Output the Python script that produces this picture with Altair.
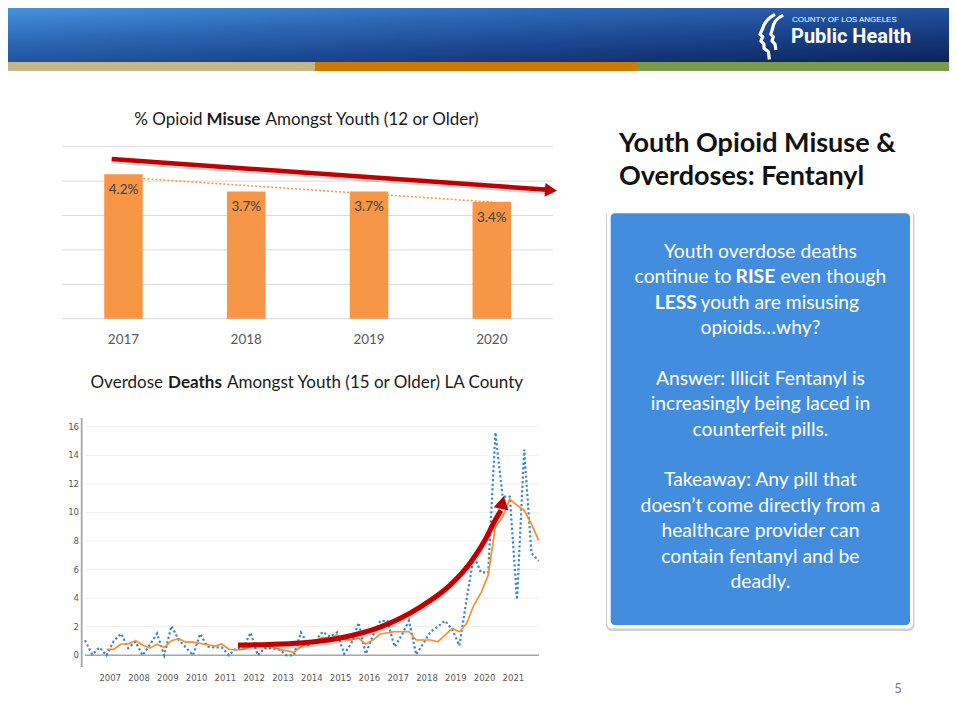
import altair as alt
import pandas as pd

OX, OY = 8, 8          # page margin
W, H = 941, 706        # drawable canvas


def X(v):
    return v - OX


def Y(v):
    return v - OY


# ---------------- data: bar chart ----------------
bar_years = ["2017", "2018", "2019", "2020"]
bar_values = [4.2, 3.7, 3.7, 3.4]
bar_labels = ["4.2%", "3.7%", "3.7%", "3.4%"]
bar_grid = [0, 1, 2, 3, 4, 5]
trend_pos = [0, 3]
trend_vals = [4.11, 3.39]
arrow1_pos = [-0.096, 3.457]
arrow1_vals = [4.64, 3.75]
arrow1_head_pos = [3.482]
arrow1_head_val = [3.735]

# ---------------- data: line chart ----------------
quarters = [f"{y}-Q{q}" for y in range(2006, 2022) for q in range(1, 5)]
deaths_quarterly = [
    1.05, 0.05, 0.55, 0.0, 1.0, 1.52, 0.5, 0.95,
    0.0, 0.72, 1.52, 0.0, 2.05, 1.1, 0.55, 0.0,
    1.5, 0.6, 0.55, 0.55, 0.0, 0.5, 0.55, 1.58,
    0.0, 0.5, 0.5, 0.4, 0.0, 0.0, 1.6, 0.72,
    1.0, 1.65, 1.3, 1.6, 0.1, 0.84, 2.28, 0.1,
    1.4, 2.4, 2.4, 0.6, 1.42, 2.42, 0.05, 0.84,
    1.65, 2.0, 2.42, 1.8, 0.68, 3.9, 6.95, 5.8,
    5.8, 15.6, 11.1, 11.1, 3.9, 14.4, 7.16, 6.6,
]
deaths_moving_avg = [
    None, None, None, 0.42, 0.42, 0.79, 0.79, 1.02,
    0.72, 0.5, 0.78, 0.54, 1.02, 1.16, 0.92, 0.92,
    0.84, 0.74, 0.65, 0.79, 0.42, 0.37, 0.42, 0.62,
    0.65, 0.62, 0.6, 0.4, 0.33, 0.21, 0.6, 0.84,
    1.0, 1.25, 1.19, 1.42, 1.12, 1.07, 1.19, 0.79,
    1.07, 1.49, 1.58, 1.65, 1.65, 1.65, 1.07, 1.07,
    1.07, 0.95, 1.42, 1.88, 1.65, 2.23, 3.5, 4.37,
    5.6, 9.0, 9.67, 10.93, 10.5, 10.14, 9.2, 8.05,
]
line_grid = [2, 4, 6, 8, 10, 12, 14, 16]
line_ticks = [0, 2, 4, 6, 8, 10, 12, 14, 16]
line_years = list(range(2007, 2022))
arrow2_t = [2011.44, 2012.5, 2013.59, 2014.98, 2016.37, 2017.76, 2018.8, 2019.49, 2020.01, 2020.36, 2020.57]
arrow2_v = [0.72, 0.76, 0.86, 1.21, 1.97, 3.37, 4.91, 6.44, 8.05, 9.44, 10.14]
arrow2_head_t = [2020.62]
arrow2_head_v = [10.7]

# ---------------- tables ----------------
bar_df = pd.DataFrame({"year": bar_years, "value": bar_values, "label": bar_labels})
bar_grid_df = pd.DataFrame({"g": bar_grid})
trend_df = pd.DataFrame({"p": trend_pos, "v": trend_vals})
arrow1_df = pd.DataFrame({"p": arrow1_pos, "v": arrow1_vals})
arrow1_head_df = pd.DataFrame({"p": arrow1_head_pos, "v": arrow1_head_val})

qdf = pd.DataFrame({"quarter": quarters, "deaths": deaths_quarterly, "avg": deaths_moving_avg})
qdf["t"] = [int(s[:4]) + (int(s[-1]) - 0.5) / 4 for s in quarters]
avg_df = qdf.dropna(subset=["avg"])
line_grid_df = pd.DataFrame({"g": line_grid})
line_ticks_df = pd.DataFrame({"v": line_ticks})
line_years_df = pd.DataFrame({"yr": line_years})
arrow2_df = pd.DataFrame({"t": arrow2_t, "v": arrow2_v})
arrow2_head_df = pd.DataFrame({"t": arrow2_head_t, "v": arrow2_head_v})

dummy = pd.DataFrame({"k": [0]})

# ---------------- scales ----------------
bar_x = alt.Scale(domain=bar_years, range=[X(62.1), X(553.2)], paddingInner=0.686, paddingOuter=0.343)
bar_xq = alt.Scale(domain=[-0.5, 3.5], range=[X(62.1), X(553.2)], zero=False, nice=False)
bar_y = alt.Scale(domain=[0, 5], range=[Y(318.7), Y(146.7)], zero=False, nice=False)
bar_y_sh = alt.Scale(domain=[0, 5], range=[Y(318.7) + 2, Y(146.7) + 2], zero=False, nice=False)

line_x = alt.Scale(domain=[2006.125, 2021.875], range=[X(85), X(538.6)], zero=False, nice=False)
line_y = alt.Scale(domain=[0, 16], range=[Y(655.3), Y(426.7)], zero=False, nice=False)
line_y_sh = alt.Scale(domain=[0, 16], range=[Y(655.3) + 2, Y(426.7) + 2], zero=False, nice=False)

FONT = "Lato"
RED = "#c00000"


def rect(x1, y1, x2, y2, **kw):
    return alt.Chart(dummy).mark_rect(**kw).encode(
        x=alt.value(X(x1)), x2=alt.value(X(x2)), y=alt.value(Y(y1)), y2=alt.value(Y(y2)))


def label(txt, x, y, **kw):
    return alt.Chart(dummy).mark_text(text=txt, **kw).encode(x=alt.value(X(x)), y=alt.value(Y(y)))


layers = []

# ---------------- slide header ----------------
header_fill = alt.Gradient(
    gradient="linear",
    stops=[
        alt.GradientStop(color="#4793df", offset=0),
        alt.GradientStop(color="#2e69b7", offset=0.3),
        alt.GradientStop(color="#1b468f", offset=0.62),
        alt.GradientStop(color="#0b2258", offset=1),
    ],
    x1=0, y1=0, x2=1, y2=1,
)
layers.append(rect(8, 8, 957, 62, fill=header_fill))
layers.append(rect(8, 62, 315, 71, color="#c4b787"))
layers.append(rect(315, 62, 637, 71, color="#cc7a00"))
layers.append(rect(637, 62, 957, 71, color="#7a9c48"))

# logo
logo_outer = ("M0.17,-0.92 Q-0.25,-0.7 -0.35,-0.33 L-0.47,-0.07 L-0.35,0.03 L-0.43,0.21 "
              "L-0.3,0.35 L-0.3,0.52 L-0.11,0.67 L-0.07,1")
logo_inner = ("M0.52,-0.89 Q0.12,-0.7 0.07,-0.33 L-0.01,-0.07 L0.1,0.03 L0.04,0.21 "
              "L0.17,0.35 L0.21,0.6")
for shp in (logo_outer, logo_inner):
    layers.append(
        alt.Chart(dummy).mark_point(shape=shp, filled=False, stroke="white", strokeWidth=3.2,
                                    size=2200, opacity=1, strokeJoin="round")
        .encode(x=alt.value(X(771)), y=alt.value(Y(36)))
    )
layers.append(label("COUNTY OF LOS ANGELES", 792, 19.5, align="left", baseline="middle",
                    font="Liberation Sans", fontSize=8, color="white"))
layers.append(label("Public Health", 791, 36.5, align="left", baseline="middle",
                    font="Roboto", fontSize=20, fontWeight="bold", color="white"))

# ---------------- bar chart ----------------
TS = 17
layers.append(label("% Opioid", 202.5, 120, align="right", baseline="middle", font=FONT, fontSize=TS, color="#1a1a1a"))
layers.append(label("Misuse", 233.5, 120, align="center", baseline="middle", font=FONT, fontSize=TS,
                    fontWeight="bold", color="#1a1a1a"))
layers.append(label("Amongst Youth (12 or Older)", 265.5, 120, align="left", baseline="middle", font=FONT,
                    fontSize=TS, color="#1a1a1a"))

layers.append(
    alt.Chart(bar_grid_df).mark_rule(color="#d9d9d9", strokeWidth=1)
    .encode(y=alt.Y("g:Q", scale=bar_y, axis=None), x=alt.value(X(62)), x2=alt.value(X(553)))
)
layers.append(
    alt.Chart(trend_df).mark_line(color="#f79646", strokeDash=[2, 2], strokeWidth=1.6)
    .encode(x=alt.X("p:Q", scale=bar_xq, axis=None), y=alt.Y("v:Q", scale=bar_y, axis=None))
)
layers.append(
    alt.Chart(bar_df).mark_bar(color="#f79646")
    .encode(x=alt.X("year:N", scale=bar_x, axis=None), y=alt.Y("value:Q", scale=bar_y, axis=None))
)
layers.append(
    alt.Chart(bar_df).mark_text(dy=16, baseline="middle", font=FONT, fontSize=13.5, color="#404040")
    .encode(x=alt.X("year:N", scale=bar_x, axis=None), y=alt.Y("value:Q", scale=bar_y, axis=None),
            text="label:N")
)
layers.append(
    alt.Chart(bar_df).mark_text(baseline="middle", font=FONT, fontSize=13.5, color="#595959")
    .encode(x=alt.X("year:N", scale=bar_x, axis=None), y=alt.value(Y(339.5)), text="year:N")
)
# straight red arrow
layers.append(
    alt.Chart(arrow1_df).mark_line(color="#555555", opacity=0.25, strokeWidth=5)
    .encode(x=alt.X("p:Q", scale=bar_xq, axis=None), y=alt.Y("v:Q", scale=bar_y_sh, axis=None))
)
layers.append(
    alt.Chart(arrow1_df).mark_line(color=RED, strokeWidth=4.5)
    .encode(x=alt.X("p:Q", scale=bar_xq, axis=None), y=alt.Y("v:Q", scale=bar_y, axis=None))
)
layers.append(
    alt.Chart(arrow1_head_df).mark_point(shape="triangle-right", filled=True, color=RED, opacity=1,
                                         size=190, angle=4)
    .encode(x=alt.X("p:Q", scale=bar_xq, axis=None), y=alt.Y("v:Q", scale=bar_y, axis=None))
)

# ---------------- line chart ----------------
layers.append(label("Overdose", 163, 383, align="right", baseline="middle", font=FONT, fontSize=TS, color="#1a1a1a"))
layers.append(label("Deaths", 195, 383, align="center", baseline="middle", font=FONT, fontSize=TS,
                    fontWeight="bold", color="#1a1a1a"))
layers.append(label("Amongst Youth (15 or Older) LA County", 227, 383, align="left", baseline="middle",
                    font=FONT, fontSize=TS, color="#1a1a1a"))

layers.append(
    alt.Chart(line_grid_df).mark_rule(color="#efefef", strokeWidth=1)
    .encode(y=alt.Y("g:Q", scale=line_y, axis=None), x=alt.value(X(85)), x2=alt.value(X(539)))
)
layers.append(
    alt.Chart(dummy).mark_rule(color="#a6a6a6", strokeWidth=1.6)
    .encode(x=alt.value(X(85)), x2=alt.value(X(539)), y=alt.value(Y(655.3)))
)
layers.append(
    alt.Chart(dummy).mark_rule(color="#a6a6a6", strokeWidth=1.8)
    .encode(x=alt.value(X(81.7)), y=alt.value(Y(418)), y2=alt.value(Y(667)))
)
layers.append(
    alt.Chart(line_ticks_df).mark_text(align="right", baseline="middle", font="DejaVu Sans",
                                       fontSize=8.5, color="#595959")
    .encode(y=alt.Y("v:Q", scale=line_y, axis=None), x=alt.value(X(79)), text="v:Q")
)
layers.append(
    alt.Chart(line_years_df).mark_text(baseline="middle", font="DejaVu Sans", fontSize=8.5, color="#595959")
    .encode(x=alt.X("yr:Q", scale=line_x, axis=None), y=alt.value(Y(678)), text="yr:N")
)
layers.append(
    alt.Chart(qdf).mark_line(color="#3a86c8", strokeWidth=2.2, strokeDash=[2.2, 2.4])
    .encode(x=alt.X("t:Q", scale=line_x, axis=None), y=alt.Y("deaths:Q", scale=line_y, axis=None))
)
layers.append(
    alt.Chart(avg_df).mark_line(color="#f98e2b", strokeWidth=1.7)
    .encode(x=alt.X("t:Q", scale=line_x, axis=None), y=alt.Y("avg:Q", scale=line_y, axis=None))
)
# curved red arrow
layers.append(
    alt.Chart(arrow2_df).mark_line(color="#555555", opacity=0.25, strokeWidth=6, interpolate="monotone")
    .encode(x=alt.X("t:Q", scale=line_x, axis=None), y=alt.Y("v:Q", scale=line_y_sh, axis=None))
)
layers.append(
    alt.Chart(arrow2_df).mark_line(color=RED, strokeWidth=5, interpolate="monotone")
    .encode(x=alt.X("t:Q", scale=line_x, axis=None), y=alt.Y("v:Q", scale=line_y, axis=None))
)
layers.append(
    alt.Chart(arrow2_head_df).mark_point(shape="triangle-up", filled=True, color=RED, opacity=1,
                                         size=230, angle=12)
    .encode(x=alt.X("t:Q", scale=line_x, axis=None), y=alt.Y("v:Q", scale=line_y, axis=None))
)

# ---------------- right-hand text ----------------
layers.append(label("Youth Opioid Misuse &", 619, 151.7, align="left", baseline="alphabetic", font=FONT,
                    fontSize=27, fontWeight="bold", color="#111111"))
layers.append(label("Overdoses: Fentanyl", 619, 185, align="left", baseline="alphabetic", font=FONT,
                    fontSize=27, fontWeight="bold", color="#111111"))

layers.append(rect(606, 210.5, 914.5, 631, color="#cfcfcf", cornerRadius=6))
layers.append(rect(607, 210, 913, 628.5, color="white", cornerRadius=5))
layers.append(rect(610.7, 213.3, 910, 625, color="#438ddf", cornerRadius=4))

CX = 760.4
LH = 25.4
Y0 = 251.7
box_lines = {
    0: "Youth overdose deaths",
    3: "opioids\u2026why?",
    5: "Answer: Illicit Fentanyl is",
    6: "increasingly being laced in",
    7: "counterfeit pills.",
    9: "Takeaway: Any pill that",
    10: "doesn\u2019t come directly from a",
    11: "healthcare provider can",
    12: "contain fentanyl and be",
    13: "deadly.",
}
txt_kw = dict(baseline="middle", font=FONT, fontSize=19.3, color="white")
for k, s in box_lines.items():
    layers.append(label(s, CX, Y0 + k * LH, align="center", **txt_kw))
y1 = Y0 + LH
layers.append(label("continue to", 731.5, y1, align="right", **txt_kw))
layers.append(label("RISE", 755.4, y1, align="center", fontWeight="bold", **txt_kw))
layers.append(label("even though", 780.5, y1, align="left", **txt_kw))
y2 = Y0 + 2 * LH
layers.append(label("LESS", 675.8, y2, align="center", fontWeight="bold", **txt_kw))
layers.append(label("youth are misusing", 700.5, y2, align="left", **txt_kw))

# page number
layers.append(label("5", 898, 689, align="center", baseline="middle", font=FONT, fontSize=13, color="#7f7f7f"))

chart = (
    alt.layer(*layers)
    .resolve_scale(x="independent", y="independent")
    .properties(width=W, height=H, padding=0, autosize=alt.AutoSizeParams(type="none"),
                background="white")
    .configure_view(stroke=None)
)

chart.save("out.html", embed_options={"renderer": "svg", "actions": False})
